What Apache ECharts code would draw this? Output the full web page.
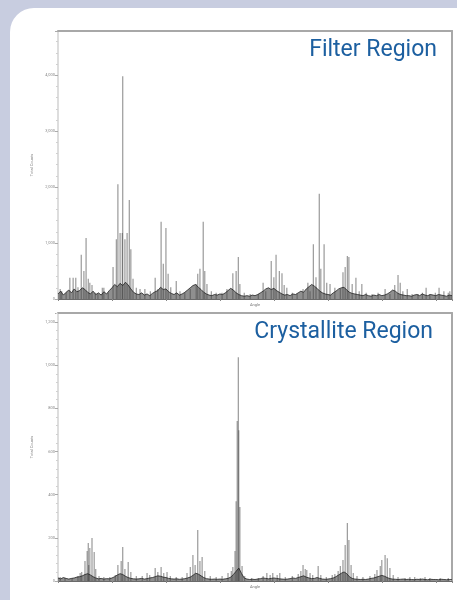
<!DOCTYPE html>
<html><head><meta charset="utf-8">
<script src="https://cdn.jsdelivr.net/npm/echarts@6/dist/echarts.min.js"></script>
<style>
html,body{margin:0;padding:0;background:#c8cde0;overflow:hidden;}
#wrap{position:relative;width:457px;height:600px;overflow:hidden;}
#panel{position:absolute;left:10px;top:8px;width:470px;height:620px;border-radius:24px;background:#ffffff;}
#c{position:absolute;left:0;top:0;width:457px;height:600px;}
</style>
</head><body>
<div id="wrap"><div id="panel"></div><div id="c"></div></div>
<script>
// ---- Filter Region (top) : peak angles (2θ, arbitrary units) and counts ----
const filterAngles = [
  0.4,0.7,1.5,2.2,2.8,3.3,3.7,4.3,4.8,5.2,
  5.6,5.9,6.3,6.9,7.4,8.2,8.5,9.3,10.2,10.8,
  11.1,11.5,11.9,12.0,12.4,12.8,13.2,13.5,13.9,14.5,
  15.2,16.1,17.1,18.0,18.5,19.1,19.5,20.0,20.4,20.9,
  21.9,22.6,23.5,24.5,25.6,25.9,26.3,26.9,27.2,27.6,
  28.4,29.3,30.4,31.3,32.4,33.0,33.4,33.7,34.5,35.6,
  37.1,38.0,38.5,39.5,40.0,40.4,41.0,41.5,41.9,42.4,
  43.4,44.3,45.4,46.3,46.7,47.3,47.8,48.4,48.7,49.3,
  49.8,50.4,51.3,52.3,52.8,53.2,53.6,53.9,54.5,55.2,
  55.8,56.3,57.1,58.2,59.3,60.6,61.5,62.4,63.0,63.4,
  63.9,64.7,65.6,66.7,67.5,68.2,68.9,69.9,70.6,71.5,
  72.3,72.6
];
const filterCounts = [
  180,140,110,380,380,380,210,790,500,1090,
  360,290,250,110,90,200,200,110,570,1070,
  2050,1180,1180,3980,1070,1180,1770,890,360,200,
  180,180,140,380,180,1380,630,1270,450,210,
  320,140,110,180,270,450,540,1380,500,270,
  140,110,110,180,460,500,750,270,110,90,
  90,290,140,680,390,790,500,460,250,200,
  110,90,180,290,140,980,390,1880,540,980,
  290,270,200,180,480,570,770,750,270,380,
  140,270,110,90,110,180,90,250,430,290,
  140,180,90,90,110,200,90,110,200,140,
  110,140
];
// background noise, one value every 0.5 unit from 0 to 73
const filterBaseline = [
  90,140,70,120,160,110,180,130,150,200,
  170,120,90,140,80,110,70,130,90,150,
  200,260,220,280,240,300,250,180,120,90,
  80,110,70,90,60,100,130,150,210,170,
  180,130,100,80,110,70,90,120,160,200,
  240,260,210,170,120,90,70,60,80,70,
  90,80,110,150,190,160,110,80,60,50,
  60,50,70,60,80,110,140,180,200,170,
  190,150,120,90,70,80,60,90,80,110,
  140,120,180,220,260,230,190,140,110,90,
  80,70,110,140,180,200,210,160,120,100,
  90,80,70,60,80,60,50,70,60,80,
  60,70,90,120,160,140,100,80,70,60,
  60,50,70,80,60,90,70,60,80,70,
  60,80,70,60,50,70,60
];
// ---- Crystallite Region (bottom) ----
const crystalAngles = [
  0.4,1.3,2.6,3.7,4.1,4.4,5.0,5.4,5.6,5.7,
  5.9,6.3,6.7,7.0,7.6,8.5,9.6,10.6,11.1,11.7,
  12.0,12.4,13.0,13.5,14.5,15.6,16.5,17.0,18.0,18.5,
  19.1,19.6,20.2,20.8,21.9,23.0,23.9,24.5,25.0,25.4,
  25.9,26.3,26.7,27.2,28.2,29.3,30.4,31.5,32.1,32.4,
  32.8,33.0,33.2,33.4,33.5,33.7,34.1,34.6,35.9,37.1,
  38.0,38.7,39.3,39.8,40.6,41.1,42.1,43.4,44.5,45.0,
  45.4,45.8,46.1,46.7,47.2,48.2,48.7,49.7,50.8,51.3,
  51.9,52.3,52.8,53.2,53.6,53.9,54.3,54.7,55.4,56.5,
  57.8,58.7,59.1,59.7,60.0,60.6,61.0,61.5,62.1,63.0,
  64.3,65.2,66.1,67.1,68.0,68.9,70.8,72.3
];
const crystalCounts = [
  19,14,14,23,37,42,93,139,176,74,
  153,199,134,56,23,19,19,28,74,93,
  157,56,88,42,23,23,37,28,60,42,
  65,37,42,23,19,19,37,65,120,74,
  236,93,111,46,23,19,23,37,46,65,
  139,370,741,1037,699,343,69,23,14,14,
  23,37,28,37,28,37,19,23,32,46,
  74,56,51,37,28,69,28,19,28,32,
  46,69,97,167,269,190,74,37,23,19,
  23,32,51,69,97,120,106,60,28,19,
  14,19,19,14,19,14,14,14
];
const crystalBaseline = [
  14,10,16,12,9,12,14,18,20,24,
  30,34,28,20,14,10,12,9,11,10,
  14,20,28,34,30,22,16,12,10,9,
  10,12,9,11,14,16,20,24,22,18,
  16,12,10,9,10,8,9,11,14,18,
  26,36,32,24,16,11,9,8,9,8,
  9,8,10,12,18,30,45,60,35,14,
  9,7,8,7,9,11,14,12,10,12,
  14,12,10,9,8,9,11,14,12,16,
  20,24,18,14,11,12,16,12,9,8,
  9,11,14,20,28,36,42,34,20,12,
  9,8,7,8,7,9,12,14,18,22,
  26,22,16,11,9,8,7,8,9,7,
  8,7,6,8,7,9,7,6,8,7,
  7,6,8,7,6,7,6
];
const baselineStep = 0.5;
const angleRange = [0, 73];
const filterYMax = 4790, filterYStep = 1000;
const crystalYMax = 1242, crystalYStep = 200;
const titles = ['Filter Region', 'Crystallite Region'];

const pairs = (xs, ys) => xs.map((x, i) => [x, ys[i]]);
const basePairs = ys => ys.map((v, i) => [i * baselineStep, v]);

const chart = echarts.init(document.getElementById('c'), null, {renderer: 'canvas'});
const FONT = 'Roboto, "Noto Sans", sans-serif';

function xAxes(g) {
  return [
    {gridIndex: g, type: 'value', min: angleRange[0], max: angleRange[1], interval: 10,
     axisLine: {show: true, onZero: false, lineStyle: {color: '#6a6a6a', width: 1}},
     axisTick: {show: true, length: 2, lineStyle: {color: '#888'}},
     axisLabel: {show: false}, splitLine: {show: false},
     name: 'Angle', nameLocation: 'middle', nameGap: 4,
     nameTextStyle: {fontSize: 4, color: '#777', fontFamily: FONT}},
    {gridIndex: g, type: 'value', position: 'top', min: angleRange[0], max: angleRange[1],
     axisLine: {show: true, onZero: false, lineStyle: {color: '#a8a8a8', width: 2}},
     axisTick: {show: false}, axisLabel: {show: false}, splitLine: {show: false}}
  ];
}
function yAxes(g, max, step) {
  return [
    {gridIndex: g, type: 'value', min: 0, max: max, interval: step,
     axisLine: {show: true, onZero: false, lineStyle: {color: '#d2d2d2', width: 1.5}},
     axisTick: {show: true, length: 3, lineStyle: {color: '#aaa'}},
     minorTick: {show: true, splitNumber: 5, length: 2, lineStyle: {color: '#d0d0d0'}},
     axisLabel: {show: true, fontSize: 4, color: '#888', margin: 3, showMaxLabel: false, fontFamily: FONT},
     splitLine: {show: false},
     name: 'Total Counts', nameLocation: 'middle', nameGap: 19,
     nameTextStyle: {fontSize: 4, color: '#888', fontFamily: FONT}},
    {gridIndex: g, type: 'value', position: 'right', min: 0, max: max,
     axisLine: {show: true, onZero: false, lineStyle: {color: '#a8a8a8', width: 2}},
     axisTick: {show: false}, axisLabel: {show: false}, splitLine: {show: false}}
  ];
}
function peakSeries(xi, yi, data) {
  return {type: 'bar', xAxisIndex: xi, yAxisIndex: yi, data: data, barWidth: 1,
    itemStyle: {color: '#444', opacity: 0.65}, silent: true, animation: false, z: 2};
}
function baseSeries(xi, yi, data) {
  return {type: 'line', xAxisIndex: xi, yAxisIndex: yi, data: data, symbol: 'none',
    lineStyle: {color: '#222', width: 0.8}, areaStyle: {color: '#444', opacity: 0.6},
    silent: true, animation: false, z: 3};
}

chart.setOption({
  animation: false,
  backgroundColor: 'transparent',
  title: [
    {text: titles[0], right: 20, top: 39, padding: 0,
     textStyle: {fontFamily: FONT, fontSize: 23, fontWeight: 'normal', color: '#1c5fa0'}},
    {text: titles[1], right: 24, top: 321, padding: 0,
     textStyle: {fontFamily: FONT, fontSize: 23, fontWeight: 'normal', color: '#1c5fa0'}}
  ],
  grid: [
    {left: 58, top: 31, width: 394, height: 268, containLabel: false},
    {left: 58, top: 313, width: 394, height: 268, containLabel: false}
  ],
  xAxis: [...xAxes(0), ...xAxes(1)],
  yAxis: [...yAxes(0, filterYMax, filterYStep), ...yAxes(1, crystalYMax, crystalYStep)],
  series: [
    baseSeries(1, 0, basePairs(filterBaseline)),
    peakSeries(0, 0, pairs(filterAngles, filterCounts)),
    baseSeries(3, 2, basePairs(crystalBaseline)),
    peakSeries(2, 2, pairs(crystalAngles, crystalCounts))
  ]
});
</script>
</body></html>
